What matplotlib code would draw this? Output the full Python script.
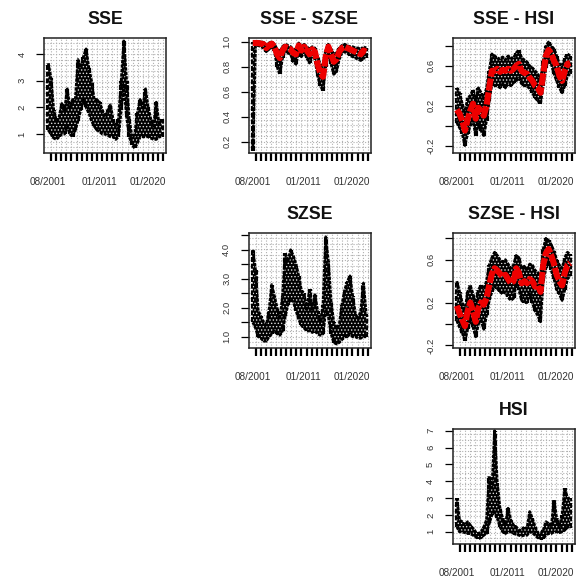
import numpy as np
import matplotlib
matplotlib.use("Agg")
import matplotlib.pyplot as plt
import matplotlib.transforms as mtransforms

plt.rcParams['font.family'] = ['Liberation Sans', 'DejaVu Sans']
plt.rcParams['hatch.linewidth'] = 0.6

# half-yearly sampling dates (decimal years), 08/2001 .. mid 2022
t = 2001.6 + 0.5 * np.arange(43)

# ---- volatility series: upper / lower envelopes ----
sse_hi = [3.66, 3.1, 1.9, 1.5, 1.65, 2.15, 1.85, 2.7, 2.0, 2.3, 2.3, 3.8, 3.5, 3.9, 4.2,
          3.5, 3.0, 2.3, 2.3, 2.2, 1.9, 1.65, 1.9, 2.1, 1.55, 1.3, 1.55, 3.0, 4.5, 3.0,
          1.55, 0.9, 0.97, 1.8, 2.3, 2.0, 2.7, 2.0, 1.55, 1.3, 2.2, 1.4, 1.55]
sse_lo = [1.16, 1.0, 0.85, 0.8, 0.9, 1.0, 1.0, 1.3, 1.0, 0.9, 1.15, 1.5, 1.9, 2.3, 2.0,
          1.8, 1.5, 1.3, 1.15, 1.1, 1.0, 1.0, 0.95, 0.9, 0.9, 0.8, 0.9, 1.9, 2.8, 1.65,
          0.9, 0.6, 0.47, 0.66, 0.9, 0.9, 0.9, 0.9, 0.85, 0.8, 0.8, 0.9, 0.9]

szse_hi = [4.0, 3.3, 1.9, 1.7, 1.5, 1.4, 1.9, 2.8, 2.4, 2.0, 1.6, 2.4, 3.9, 3.6, 4.0,
           3.8, 3.5, 3.1, 2.6, 2.5, 1.9, 2.65, 1.9, 2.45, 1.9, 1.5, 2.1, 4.45, 3.6, 2.2,
           1.5, 1.3, 1.4, 2.1, 2.6, 2.9, 3.1, 2.4, 1.8, 1.6, 1.9, 2.85, 1.8]
szse_lo = [1.5, 1.3, 1.0, 0.95, 0.85, 0.85, 1.0, 1.1, 1.2, 1.1, 1.05, 1.2, 1.7, 2.1, 2.3,
           2.2, 1.9, 1.6, 1.4, 1.3, 1.2, 1.2, 1.15, 1.2, 1.1, 1.05, 1.1, 1.9, 1.7, 1.1,
           0.8, 0.75, 0.8, 0.9, 1.0, 1.0, 1.1, 1.0, 1.0, 0.95, 0.95, 1.0, 1.0]

hsi_hi = [3.0, 1.7, 1.6, 1.4, 1.6, 1.4, 1.2, 1.0, 0.9, 1.0, 1.3, 1.7, 4.3, 3.5, 7.0,
          3.9, 2.4, 1.8, 1.4, 2.4, 1.7, 1.4, 1.3, 1.1, 1.1, 1.3, 1.2, 2.2, 1.8, 1.3,
          0.95, 0.9, 1.1, 1.6, 1.5, 1.3, 2.9, 1.8, 1.3, 2.0, 3.6, 3.0, 3.0]
hsi_lo = [1.3, 1.0, 1.0, 0.95, 0.9, 0.9, 0.8, 0.7, 0.6, 0.65, 0.8, 0.9, 1.5, 2.0, 2.2,
          1.8, 1.3, 1.0, 0.9, 1.0, 1.0, 0.9, 0.85, 0.8, 0.75, 0.8, 0.8, 1.0, 0.95, 0.8,
          0.65, 0.6, 0.6, 0.8, 0.9, 0.9, 1.0, 1.0, 0.95, 1.0, 1.1, 1.3, 1.2]

# ---- dynamic correlations: estimate (red) and band (black) ----
sse_szse = [0.99, 0.99, 0.99, 0.985, 0.98, 0.95, 0.97, 0.985, 0.96, 0.90, 0.87, 0.93, 0.96,
            0.95, 0.94, 0.91, 0.90, 0.97, 0.93, 0.96, 0.93, 0.90, 0.94, 0.92, 0.82, 0.75,
            0.72, 0.88, 0.96, 0.90, 0.84, 0.86, 0.92, 0.95, 0.96, 0.95, 0.94, 0.93, 0.92,
            0.91, 0.90, 0.93, 0.92]
sse_szse_hi = [1.0, 1.0, 1.0, 1.0, 0.995, 0.97, 0.99, 1.0, 0.98, 0.94, 0.92, 0.96, 0.98,
               0.97, 0.96, 0.94, 0.94, 0.99, 0.96, 0.98, 0.96, 0.94, 0.96, 0.95, 0.88, 0.82,
               0.80, 0.93, 0.98, 0.94, 0.90, 0.91, 0.95, 0.97, 0.98, 0.97, 0.96, 0.96, 0.95,
               0.95, 0.94, 0.96, 0.95]
sse_szse_lo = [0.13, 0.97, 0.97, 0.96, 0.95, 0.92, 0.94, 0.96, 0.93, 0.80, 0.74, 0.87, 0.93,
               0.91, 0.90, 0.84, 0.82, 0.93, 0.88, 0.92, 0.87, 0.83, 0.90, 0.86, 0.73, 0.65,
               0.61, 0.80, 0.91, 0.82, 0.74, 0.76, 0.86, 0.91, 0.92, 0.91, 0.89, 0.88, 0.87,
               0.86, 0.85, 0.87, 0.87]

sse_hsi = [0.16, 0.12, 0.05, -0.05, 0.06, 0.15, 0.22, 0.07, 0.18, 0.15, 0.10, 0.20, 0.38,
           0.55, 0.55, 0.57, 0.54, 0.56, 0.55, 0.57, 0.55, 0.57, 0.60, 0.62, 0.55, 0.53,
           0.52, 0.48, 0.45, 0.40, 0.38, 0.33, 0.52, 0.70, 0.76, 0.72, 0.65, 0.60, 0.50,
           0.45, 0.55, 0.62, 0.63]
sse_hsi_hi = [0.38, 0.33, 0.22, 0.12, 0.28, 0.30, 0.36, 0.25, 0.38, 0.33, 0.27, 0.38, 0.55,
              0.72, 0.70, 0.68, 0.67, 0.69, 0.66, 0.70, 0.68, 0.68, 0.73, 0.76, 0.68, 0.66,
              0.64, 0.60, 0.58, 0.55, 0.52, 0.45, 0.65, 0.80, 0.84, 0.80, 0.77, 0.70, 0.62,
              0.60, 0.68, 0.72, 0.70]
sse_hsi_lo = [0.03, -0.02, -0.08, -0.20, -0.08, 0.00, 0.05, -0.10, 0.02, -0.05, -0.10, 0.05,
              0.25, 0.42, 0.40, 0.40, 0.38, 0.42, 0.38, 0.42, 0.40, 0.43, 0.45, 0.48, 0.42,
              0.40, 0.40, 0.37, 0.33, 0.28, 0.25, 0.22, 0.40, 0.58, 0.66, 0.62, 0.52, 0.45,
              0.38, 0.33, 0.40, 0.50, 0.52]

szse_hsi = [0.17, 0.10, 0.04, -0.02, 0.12, 0.20, 0.12, 0.02, 0.15, 0.20, 0.18, 0.24, 0.36,
            0.47, 0.52, 0.50, 0.47, 0.44, 0.46, 0.42, 0.38, 0.40, 0.52, 0.48, 0.38, 0.40,
            0.38, 0.42, 0.40, 0.35, 0.36, 0.30, 0.55, 0.66, 0.70, 0.64, 0.56, 0.46, 0.40,
            0.36, 0.48, 0.55, 0.57]
szse_hsi_hi = [0.40, 0.30, 0.20, 0.12, 0.30, 0.36, 0.28, 0.18, 0.32, 0.36, 0.33, 0.40, 0.55,
               0.62, 0.67, 0.64, 0.60, 0.58, 0.60, 0.56, 0.52, 0.55, 0.64, 0.62, 0.52, 0.54,
               0.50, 0.56, 0.55, 0.50, 0.48, 0.45, 0.70, 0.80, 0.78, 0.74, 0.68, 0.60, 0.55,
               0.52, 0.62, 0.67, 0.65]
szse_hsi_lo = [0.03, -0.03, -0.08, -0.16, -0.05, 0.05, -0.03, -0.12, 0.00, 0.03, -0.05, 0.08,
               0.22, 0.30, 0.35, 0.33, 0.30, 0.28, 0.30, 0.25, 0.22, 0.24, 0.38, 0.32, 0.22,
               0.20, 0.20, 0.28, 0.20, 0.12, 0.08, 0.02, 0.40, 0.52, 0.58, 0.50, 0.42, 0.32,
               0.28, 0.22, 0.32, 0.42, 0.45]

x_label_dates = [2001.58, 2011.0, 2020.0]
x_label_text = ["08/2001", "01/2011", "01/2020"]

W, H = 576, 579
fig = plt.figure(figsize=(W / 100, H / 100), dpi=100)
fig.patch.set_facecolor('white')

BOX_W, BOX_H = 122, 114.5
lefts = [44, 248.5, 452.5]
tops = [38, 233, 429]
XLIM = (2000.8, 2023.4)
tick_years = np.linspace(2002.1, 2022.9, 23)
DASH = (0, (1.2, 0.4))


def make_axes(row, col):
    l, tp = lefts[col], tops[row]
    return fig.add_axes([l / W, 1 - (tp + BOX_H) / H, BOX_W / W, BOX_H / H])


def style(ax, title, ylim, yticks, ylabels, row, col):
    ax.set_xlim(*XLIM)
    ax.set_ylim(*ylim)
    # dotted grid lattice
    for xv in tick_years:
        ax.axvline(xv, color='#b0b0b0', lw=0.8, ls=(0, (1, 1.6)), zorder=0)
    for yv in np.linspace(ylim[0], ylim[1], 22)[1:-1]:
        ax.axhline(yv, color='#b0b0b0', lw=0.8, ls=(0, (1, 1.6)), zorder=0)
    ax.set_xticks(tick_years)
    ax.set_xticklabels([])
    ax.tick_params(axis='x', length=6, width=1.6, color='black', direction='out')
    ax.set_yticks(yticks)
    ax.set_yticklabels(ylabels, rotation=90, va='center', fontsize=6.8, color='#333333')
    ax.tick_params(axis='y', length=5.5, width=0.9, pad=7, direction='out')
    for s in ax.spines.values():
        s.set_linewidth(1.1)
        s.set_color('#222222')
    trans = mtransforms.blended_transform_factory(ax.transData, ax.transAxes)
    for xd, lab in zip(x_label_dates, x_label_text):
        ax.text(xd, -0.258, lab, transform=trans, ha='center', va='center',
                fontsize=7.2, color='#333333')
    cx = (lefts[col] + BOX_W / 2) / W
    cy = 1 - (tops[row] - 18.5) / H
    fig.text(cx, cy, title, ha='center', va='center', fontsize=12.8,
             fontweight='bold', color='#111111')


def draw_band(ax, hi, lo):
    for ti, h, l in zip(t, hi, lo):
        ax.plot([ti, ti], [l, h], color='black', lw=3.0, ls=DASH,
                solid_capstyle='butt', zorder=2)
    ax.fill_between(t, lo, hi, facecolor='black', edgecolor='#dddddd', hatch='.....',
                    lw=0, zorder=2.1)
    ax.plot(t, hi, color='black', lw=2.0, ls=DASH, zorder=2.2)
    ax.plot(t, lo, color='black', lw=2.0, ls=DASH, zorder=2.2)


def draw_red(ax, vals):
    ax.plot(t, vals, color='#ee0000', lw=4.4, ls=(0, (2.0, 0.3)), zorder=3)


# SSE
ax = make_axes(0, 0)
draw_band(ax, sse_hi, sse_lo)
style(ax, "SSE", (0.31, 4.61), [1, 2, 3, 4], ["1", "2", "3", "4"], 0, 0)

# SSE - SZSE
ax = make_axes(0, 1)
draw_band(ax, sse_szse_hi, sse_szse_lo)
draw_red(ax, sse_szse)
style(ax, "SSE - SZSE", (0.115, 1.03), [0.2, 0.4, 0.6, 0.8, 1.0],
      ["0.2", "0.4", "0.6", "0.8", "1.0"], 0, 1)

# SSE - HSI
ax = make_axes(0, 2)
draw_band(ax, sse_hsi_hi, sse_hsi_lo)
draw_red(ax, sse_hsi)
style(ax, "SSE - HSI", (-0.27, 0.88), [-0.2, 0.0, 0.2, 0.4, 0.6, 0.8],
      ["-0.2", "", "0.2", "", "0.6", ""], 0, 2)

# SZSE
ax = make_axes(1, 1)
draw_band(ax, szse_hi, szse_lo)
style(ax, "SZSE", (0.63, 4.58), [1.0, 1.5, 2.0, 2.5, 3.0, 3.5, 4.0, 4.5],
      ["1.0", "", "2.0", "", "3.0", "", "4.0", ""], 1, 1)

# SZSE - HSI
ax = make_axes(1, 2)
draw_band(ax, szse_hsi_hi, szse_hsi_lo)
draw_red(ax, szse_hsi)
style(ax, "SZSE - HSI", (-0.22, 0.85), [-0.2, 0.0, 0.2, 0.4, 0.6, 0.8],
      ["-0.2", "", "0.2", "", "0.6", ""], 1, 2)

# HSI
ax = make_axes(2, 2)
draw_band(ax, hsi_hi, hsi_lo)
style(ax, "HSI", (0.31, 7.1), [1, 2, 3, 4, 5, 6, 7],
      ["1", "2", "3", "4", "5", "6", "7"], 2, 2)

fig.savefig("out.png", dpi=100, facecolor='white')
